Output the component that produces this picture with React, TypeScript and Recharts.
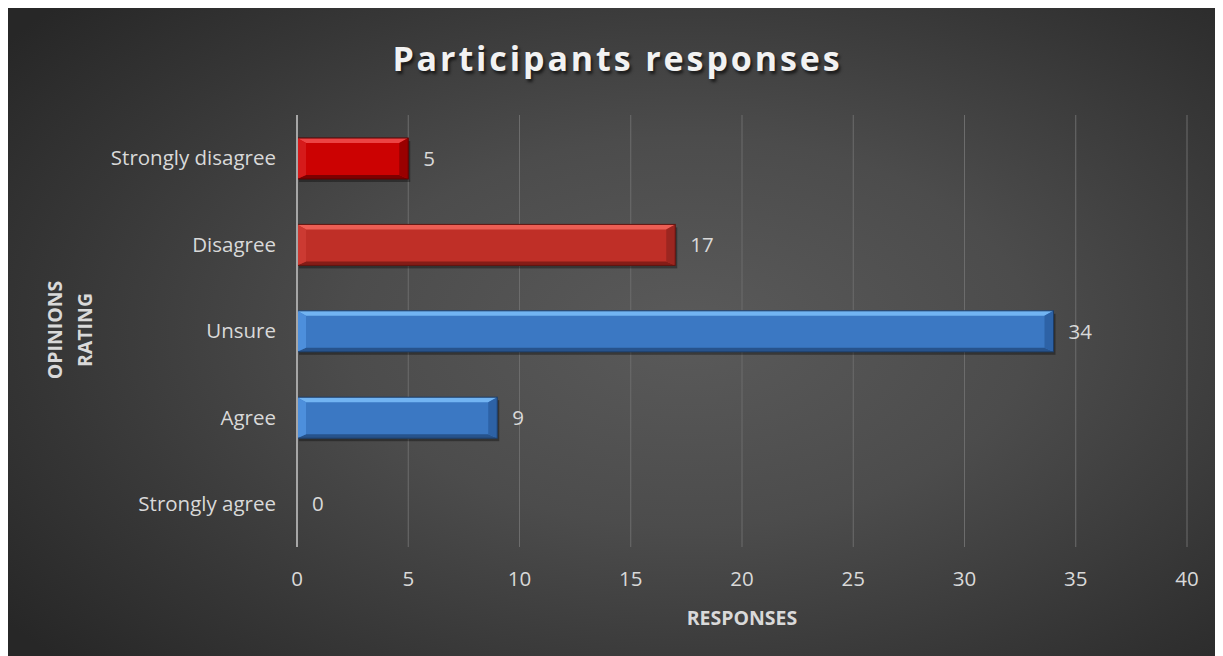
import React from "react";
import { BarChart, Bar, XAxis, YAxis, CartesianGrid, Cell, LabelList } from "recharts";

const categories = ["Strongly disagree", "Disagree", "Unsure", "Agree", "Strongly agree"];
const responses = [5, 17, 34, 9, 0];
const xTicks = [0, 5, 10, 15, 20, 25, 30, 35, 40];
const barKinds = ["red", "darkred", "blue", "blue", "blue"];

const palettes: Record<string, any> = {
  red: { main: "#cc0202", top: "#ec4444", bottom: "#7e0000", left: "#d61a1a", right: "#9a0000", edge: "#5a0000" },
  darkred: { main: "#bf2f27", top: "#ec5e54", bottom: "#851c17", left: "#cc3a32", right: "#9c2620", edge: "#5e1410" },
  blue: { main: "#3b78c3", top: "#72b4f2", bottom: "#27538c", left: "#4d8fdc", right: "#2d62a6", edge: "#1d3c66" },
};

const data = categories.map((c, i) => ({ name: c, value: responses[i], kind: barKinds[i] }));

const FONT = "'Open Sans', 'Noto Sans', sans-serif";

const BevelBar = (props: any) => {
  const { x, y, width, height, payload } = props;
  if (!width || width <= 0) return null;
  const p = palettes[payload.kind];
  const bx = Math.min(9, width / 2);
  const by = 5;
  const x2 = x + width;
  const y2 = y + height;
  return (
    <g>
      <rect x={x + 2} y={y + 3} width={width} height={height} fill="rgba(0,0,0,0.35)" />
      <rect x={x} y={y} width={width} height={height} fill={p.main} />
      <polygon points={`${x},${y} ${x2},${y} ${x2 - bx},${y + by} ${x + bx},${y + by}`} fill={p.top} />
      <polygon points={`${x},${y2} ${x2},${y2} ${x2 - bx},${y2 - 4} ${x + bx},${y2 - 4}`} fill={p.bottom} />
      <polygon points={`${x},${y} ${x + bx},${y + by} ${x + bx},${y2 - 4} ${x},${y2}`} fill={p.left} />
      <polygon points={`${x2},${y} ${x2 - bx},${y + by} ${x2 - bx},${y2 - 4} ${x2},${y2}`} fill={p.right} />
      <rect x={x} y={y} width={width} height={height} fill="none" stroke={p.edge} strokeWidth={1} />
    </g>
  );
};

export default function App() {
  return (
    <div
      style={{
        position: "relative",
        width: 1215,
        height: 648,
        marginLeft: -1,
        background: "radial-gradient(ellipse 70% 75% at 56% 50%, #5a5a5a 0%, #4c4c4c 40%, #363636 75%, #272727 100%)",
        fontFamily: FONT,
      }}
    >
      <div
        style={{
          position: "absolute",
          left: 3,
          top: 30,
          width: 1215,
          textAlign: "center",
          fontSize: 34,
          fontWeight: 700,
          letterSpacing: 2.9,
          color: "#f2f2f2",
          textShadow: "2px 3px 3px rgba(0,0,0,0.6)",
          lineHeight: "40px",
        }}
      >
        Participants responses
      </div>
      <BarChart
        width={1215}
        height={648}
        data={data}
        layout="vertical"
        barSize={41}
        margin={{ top: 107, right: 35, left: 0, bottom: 49 }}
        style={{ position: "absolute", left: 0, top: 0 }}
      >
        <CartesianGrid horizontal={false} vertical={true} stroke="#6c6c6c" strokeWidth={1} />
        <XAxis
          type="number"
          domain={[0, 40]}
          ticks={xTicks}
          axisLine={false}
          tickLine={false}
          height={60}
          tick={{ fill: "#d9d9d9", fontSize: 20.5, fontFamily: FONT }}
          tickMargin={18}
          label={{
            value: "RESPONSES",
            position: "insideBottom",
            offset: -18,
            fill: "#d9d9d9",
            fontSize: 19.5,
            fontWeight: 700,
            fontFamily: FONT,
          }}
        />
        <YAxis
          type="category"
          dataKey="name"
          width={290}
          axisLine={{ stroke: "#a6a6a6", strokeWidth: 2 }}
          tickLine={false}
          tickMargin={15}
          tick={{ fill: "#d9d9d9", fontSize: 20.5, fontFamily: FONT }}
        />
        <Bar dataKey="value" isAnimationActive={false} shape={<BevelBar />}>
          {data.map((d, i) => (
            <Cell key={i} fill={palettes[d.kind].main} />
          ))}
          <LabelList dataKey="value" position="right" offset={15} fill="#d9d9d9" fontSize={20.5} fontFamily={FONT} />
        </Bar>
      </BarChart>
      <svg style={{ position: "absolute", left: 0, top: 0, pointerEvents: "none" }} width={1215} height={648}>
        <text
          transform="translate(48 322) rotate(-90)"
          textAnchor="middle"
          fill="#d9d9d9"
          fontSize={19.5}
          fontWeight={700}
          fontFamily={FONT}
        >
          <tspan x={0} dy={7}>OPINIONS</tspan>
          <tspan x={0} dy={30}>RATING</tspan>
        </text>
      </svg>
    </div>
  );
}
